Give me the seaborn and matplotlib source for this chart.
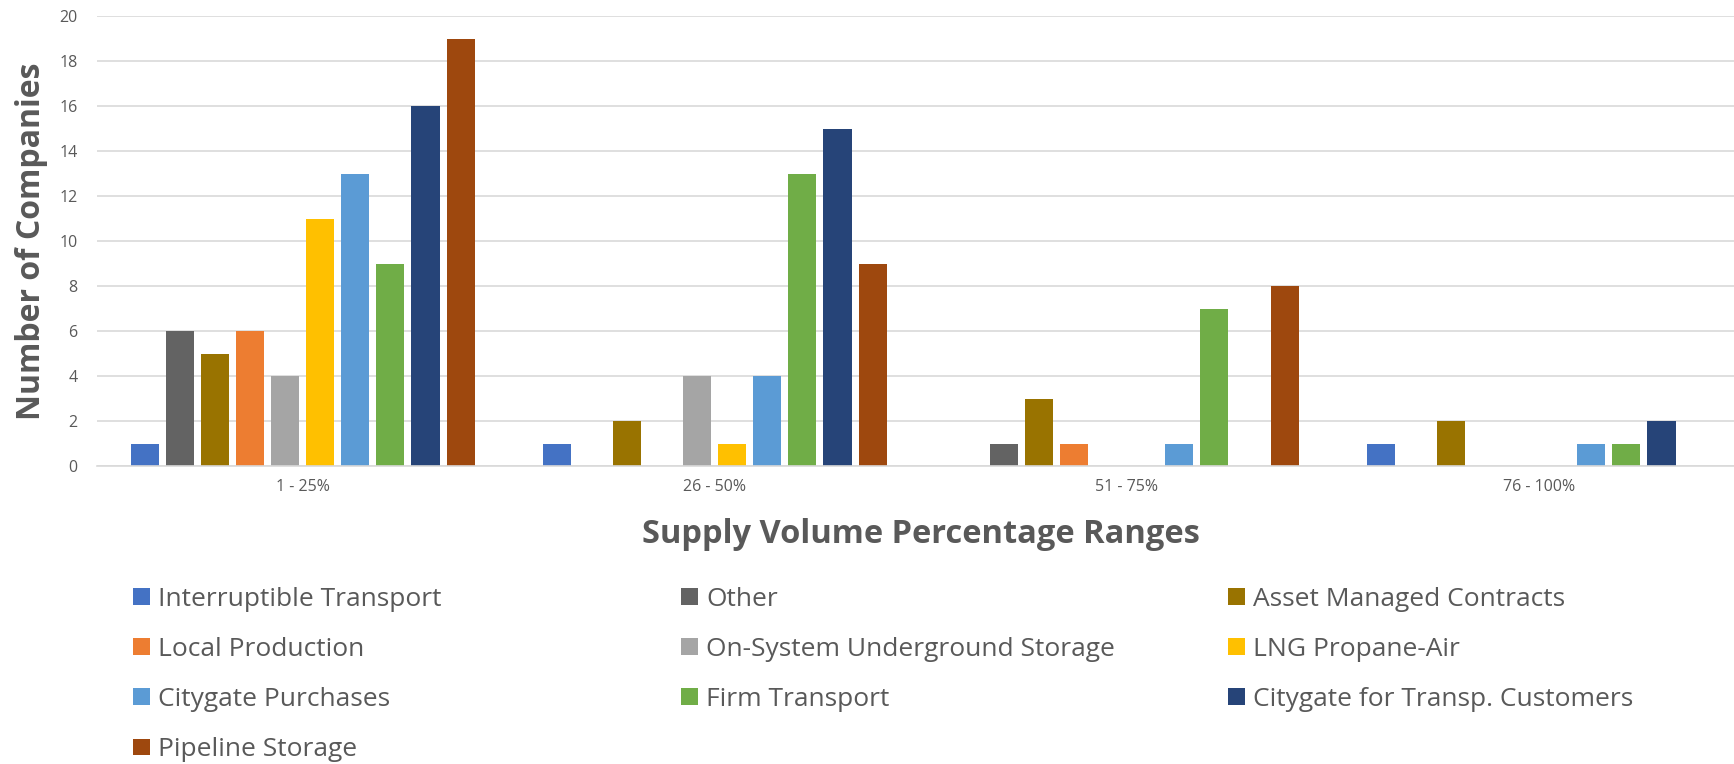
import pandas as pd
import seaborn as sns
import matplotlib.pyplot as plt
from matplotlib.patches import Patch

# Categories on the x axis
ranges = ["1 - 25%", "26 - 50%", "51 - 75%", "76 - 100%"]

# Number of companies per range, one list per supply source
interruptible_transport = [1, 1, 0, 1]
other = [6, 0, 1, 0]
asset_managed_contracts = [5, 2, 3, 2]
local_production = [6, 0, 1, 0]
on_system_storage = [4, 4, 0, 0]
lng_propane_air = [11, 1, 0, 0]
citygate_purchases = [13, 4, 1, 1]
firm_transport = [9, 13, 7, 1]
citygate_transp_customers = [16, 15, 0, 2]
pipeline_storage = [19, 9, 8, 0]

series_names = ["Interruptible Transport", "Other", "Asset Managed Contracts",
                "Local Production", "On-System Underground Storage", "LNG Propane-Air",
                "Citygate Purchases", "Firm Transport", "Citygate for Transp. Customers",
                "Pipeline Storage"]
series_values = [interruptible_transport, other, asset_managed_contracts,
                 local_production, on_system_storage, lng_propane_air,
                 citygate_purchases, firm_transport, citygate_transp_customers,
                 pipeline_storage]
colors = ["#4472C4", "#636363", "#997300", "#ED7D31", "#A5A5A5",
          "#FFC000", "#5B9BD5", "#70AD47", "#264478", "#9E480E"]

# Long form table for seaborn
rows = []
for name, vals in zip(series_names, series_values):
    for r, v in zip(ranges, vals):
        rows.append({"range": r, "series": name, "count": v})
df = pd.DataFrame(rows)

sns.set_theme(style="white")
plt.rcParams['font.family'] = ['Open Sans', 'DejaVu Sans']
text_col = "#595959"

fig = plt.figure(figsize=(17.34, 7.64), dpi=100)
ax = fig.add_axes([0.0559, 0.390, 0.9504, 0.589])

sns.barplot(data=df, x="range", y="count", hue="series", order=ranges,
            hue_order=series_names, palette=colors, saturation=1,
            width=0.85, gap=0.2, linewidth=0, legend=False, ax=ax)

ax.set_ylim(0, 20)
ax.set_yticks(range(0, 21, 2))
ax.yaxis.grid(True, color="#D9D9D9", linewidth=1.2)
ax.set_axisbelow(True)
for s in ["top", "right", "left"]:
    ax.spines[s].set_visible(False)
ax.spines["bottom"].set_color("#D9D9D9")
ax.spines["bottom"].set_linewidth(1.2)

ax.tick_params(axis="y", length=0, pad=14, labelsize=11.5, labelcolor=text_col)
ax.tick_params(axis="x", length=0, pad=9, labelsize=11.5, labelcolor=text_col)

ax.set_ylabel("Number of Companies", fontsize=23, fontweight="bold", color=text_col)
ax.set_xlabel("Supply Volume Percentage Ranges", fontsize=23.5, fontweight="bold", color=text_col)
ax.yaxis.set_label_coords(-0.0295, 0.5)
ax.xaxis.set_label_coords(0.5, -0.116)

# Legend laid out in three columns, filled row by row like the original
handles = [Patch(facecolor=c, edgecolor="none") for c in colors]
col_x = [0.0767, 0.3927, 0.7082]
for i, x in enumerate(col_x):
    idx = list(range(i, len(series_names), 3))
    fig.legend([handles[j] for j in idx], [series_names[j] for j in idx],
               loc="upper left", bbox_to_anchor=(x, 0.232), frameon=False,
               fontsize=19, labelcolor=text_col, handlelength=0.65,
               handleheight=0.6, handletextpad=0.3, labelspacing=0.955,
               borderpad=0, borderaxespad=0)

fig.savefig("out.png", dpi=100)
